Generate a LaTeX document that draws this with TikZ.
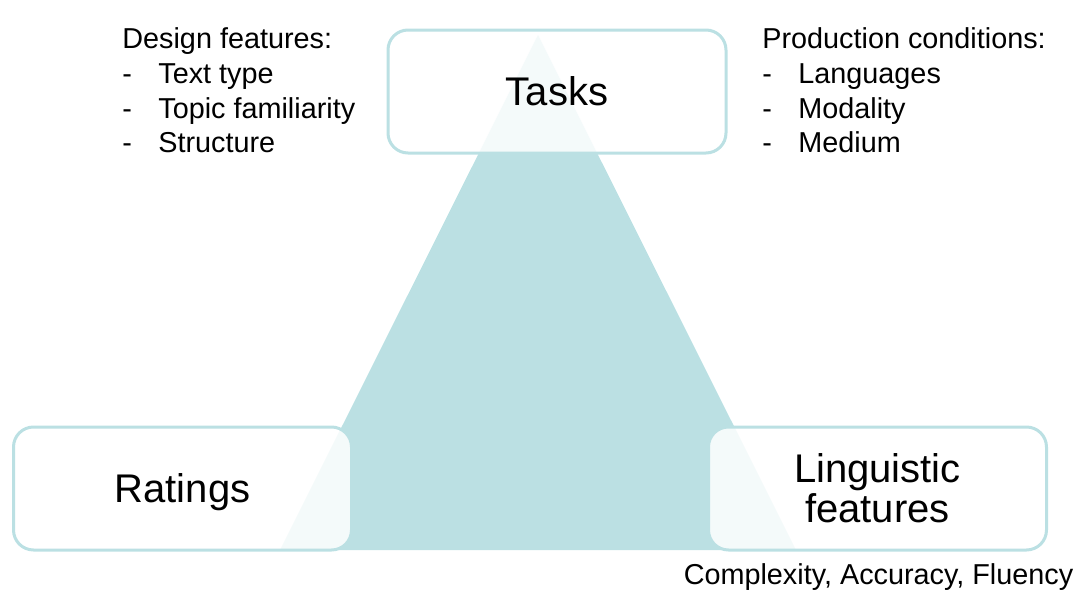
\documentclass[tikz,border=0pt]{standalone}
\usepackage{fontspec}
\setmainfont{Liberation Sans}
\usetikzlibrary{positioning}
\definecolor{trianglecyan}{RGB}{187,224,227}
\tikzset{
    cornerbox/.style={rectangle, rounded corners=10pt, draw=trianglecyan, line width=1.5pt, fill=white, fill opacity=0.85, text opacity=1, minimum width=169pt, minimum height=61.5pt, align=center, font=\fontsize{20}{20}\selectfont},
    note/.style={inner sep=0pt, anchor=base west, font=\fontsize{14.4}{17}\selectfont},
}

\begin{document}
\begin{tikzpicture}[x=0.5pt, y=-0.5pt]
    \useasboundingbox (0,0) rectangle (1084,600);
    \fill[trianglecyan] (538,35) -- (796,550) -- (280,550) -- cycle;
    \node[cornerbox] (tasks) at (557,91.5) {Tasks};
    \node[cornerbox, text depth=0pt] (ratings) at (182.5,488.5) {Ratings};
    \node[cornerbox] (ling) at (877.5,488.5) {Linguistic\\features};
    \node[note] (design) at (122,48.5) {Design features:};
    \foreach \i/\txt in {1/Text type, 2/Topic familiarity, 3/Structure} {
        \node[note] (dash\i) at (122,48.5+34.8*\i) {-};
        \node[note] (design\i) at (158,48.5+34.8*\i) {\txt};
    }
    \node[note] (prod) at (762,48.5) {Production conditions:};
    \foreach \i/\txt in {1/Languages, 2/Modality, 3/Medium} {
        \node[note] (pdash\i) at (762,48.5+34.8*\i) {-};
        \node[note] (prod\i) at (798,48.5+34.8*\i) {\txt};
    }
    \node[note, anchor=base] (caf) at (878.5,584) {Complexity, Accuracy, Fluency};
\end{tikzpicture}
\end{document}
